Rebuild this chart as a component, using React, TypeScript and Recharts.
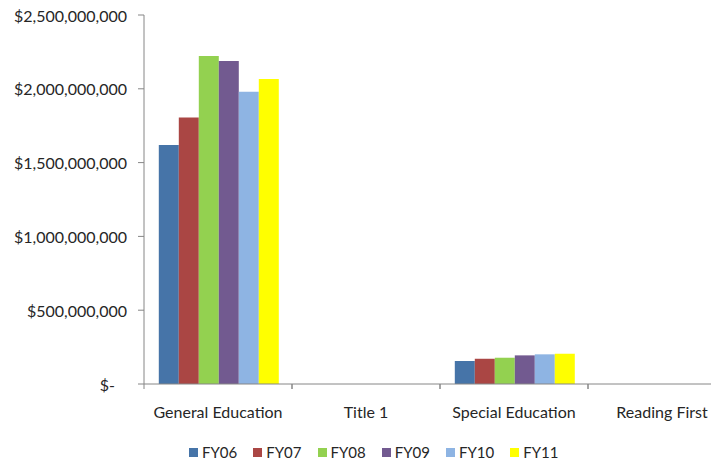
import React from "react";
import { BarChart, Bar, XAxis, YAxis } from "recharts";

const categories = ["General Education", "Title 1", "Special Education", "Reading First"];
const seriesNames = ["FY06", "FY07", "FY08", "FY09", "FY10", "FY11"];
const fy06 = [1620000000, 0, 156000000, 0];
const fy07 = [1805000000, 0, 171000000, 0];
const fy08 = [2222000000, 0, 178000000, 0];
const fy09 = [2188000000, 0, 194000000, 0];
const fy10 = [1980000000, 0, 201000000, 0];
const fy11 = [2066000000, 0, 205000000, 0];
const yTicks = [0, 500000000, 1000000000, 1500000000, 2000000000, 2500000000];
const colors = ["#4674A8", "#AA4644", "#93D150", "#725A90", "#8EB4E3", "#FFFF00"];

const seriesValues = [fy06, fy07, fy08, fy09, fy10, fy11];
const data = categories.map((c, i) => {
  const row: any = { name: c };
  seriesNames.forEach((s, j) => {
    row[s] = seriesValues[j][i];
  });
  return row;
});

const FONT = "Lato, 'Open Sans', sans-serif";
const AXIS = "#868686";
const TEXT = "#262626";

const fmt = (v: number) => (v === 0 ? "$-" : "$" + v.toLocaleString("en-US"));

const YTick = (props: any) => {
  const { x, y, payload } = props;
  const shift = payload.value === 0 ? -12 : 0;
  return (
    <text x={x + shift} y={y} textAnchor="end" dominantBaseline="central" fontFamily={FONT} fontSize={16} fill={TEXT}>
      {fmt(payload.value)}
    </text>
  );
};

const XTick = (props: any) => {
  const { x, y, payload } = props;
  const off = payload.offset ?? 74;
  return (
    <g>
      <line x1={x - off} x2={x - off} y1={y} y2={y + 5} stroke={AXIS} strokeWidth={1} />
      <line x1={x + off} x2={x + off} y1={y} y2={y + 5} stroke={AXIS} strokeWidth={1} />
      <text x={x} y={y + 27} textAnchor="middle" dominantBaseline="central" fontFamily={FONT} fontSize={16} fill={TEXT}>
        {payload.value}
      </text>
    </g>
  );
};

export default function App() {
  return (
    <div style={{ position: "fixed", left: 0, top: 0, width: 711, height: 465, overflow: "hidden", background: "#fff" }}>
      <BarChart
        width={740}
        height={465}
        data={data}
        margin={{ top: 15, right: 4, bottom: 41, left: 0 }}
        barCategoryGap="10%"
        barGap={0}
      >
        <XAxis
          dataKey="name"
          height={40}
          tickLine={false}
          tickSize={0}
          tickMargin={0}
          axisLine={{ stroke: AXIS }}
          tick={<XTick />}
          interval={0}
        />
        <YAxis
          width={144}
          domain={[0, 2500000000]}
          ticks={yTicks}
          tickSize={6}
          tickMargin={11}
          tickLine={{ stroke: AXIS }}
          axisLine={{ stroke: AXIS }}
          tick={<YTick />}
          interval={0}
        />
        {seriesNames.map((s, i) => (
          <Bar key={s} dataKey={s} fill={colors[i]} isAnimationActive={false} />
        ))}
      </BarChart>
      <div
        style={{
          position: "absolute",
          left: 189,
          top: 443,
          display: "flex",
          alignItems: "center",
          fontFamily: FONT,
          fontSize: 15,
          color: TEXT,
          whiteSpace: "nowrap",
        }}
      >
        {seriesNames.map((s, i) => (
          <div key={s} style={{ display: "flex", alignItems: "center", marginRight: 16 }}>
            <span style={{ display: "inline-block", width: 9, height: 9, background: colors[i], marginRight: 4 }} />
            <span>{s}</span>
          </div>
        ))}
      </div>
    </div>
  );
}
